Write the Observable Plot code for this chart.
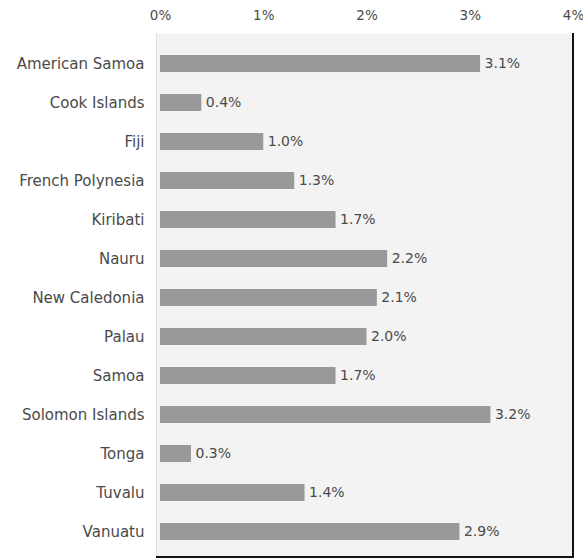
<!DOCTYPE html>
<html>
<head>
<meta charset="utf-8">
<script src="https://cdn.jsdelivr.net/npm/d3@7"></script>
<script src="https://cdn.jsdelivr.net/npm/@observablehq/plot@0.6"></script>
<style>
  html, body { margin: 0; padding: 0; background: #fff; }
  #chart svg { display: block; }
  #chart [aria-label^="x-axis"] text { font-size: 13.5px; }
</style>
</head>
<body>
<div id="chart"></div>
<script>
const countries = ["American Samoa", "Cook Islands", "Fiji", "French Polynesia", "Kiribati", "Nauru", "New Caledonia", "Palau", "Samoa", "Solomon Islands", "Tonga", "Tuvalu", "Vanuatu"];
const values = [3.1, 0.4, 1.0, 1.3, 1.7, 2.2, 2.1, 2.0, 1.7, 3.2, 0.3, 1.4, 2.9];
const xTicks = [0, 1, 2, 3, 4];

const data = countries.map((name, i) => ({name, value: values[i]}));

const W = 583, H = 559, mL = 160, mR = 10, mT = 38, mB = 3;
const inL = 4, inT = 5, inB = 1;

// frame borders: faint left edge, dark right and bottom edges
function borders(index, scales, values, dim) {
  const x0 = dim.marginLeft - inL;
  const x1 = dim.width - dim.marginRight;
  const y0 = dim.marginTop - inT;
  const y1 = dim.height - dim.marginBottom + inB;
  const g = d3.create("svg:g");
  g.append("line").attr("x1", x0 + 0.5).attr("x2", x0 + 0.5).attr("y1", y0).attr("y2", y1)
    .attr("stroke", "#e0e0e0").attr("stroke-width", 1);
  g.append("path").attr("d", `M${x1},${y0}V${y1}H${x0}`)
    .attr("fill", "none").attr("stroke", "#111").attr("stroke-width", 2);
  return g.node();
}

const chart = Plot.plot({
  width: W,
  height: H,
  marginLeft: mL,
  marginRight: mR,
  marginTop: mT,
  marginBottom: mB,
  style: {fontFamily: "DejaVu Sans", fontSize: "15px", color: "#4a4a4a", background: "#fff"},
  x: {domain: [0, 4], axis: "top", ticks: xTicks, tickFormat: d => d + "%", tickSize: 2, tickPadding: 17, label: null},
  y: {domain: countries, paddingInner: 0.57, paddingOuter: 0.285, tickSize: 0, tickPadding: 16, label: null},
  marks: [
    Plot.frame({fill: "#f3f3f3", stroke: "none", insetLeft: -inL, insetTop: -inT, insetBottom: -inB}),
    Plot.barX(data, {x: "value", y: "name", fill: "#999999"}),
    Plot.text(data, {x: "value", y: "name", text: d => d.value.toFixed(1) + "%", textAnchor: "start", dx: 4, fontSize: 14, fill: "#4a4a4a"}),
    borders
  ]
});
document.getElementById("chart").appendChild(chart);
</script>
</body>
</html>
